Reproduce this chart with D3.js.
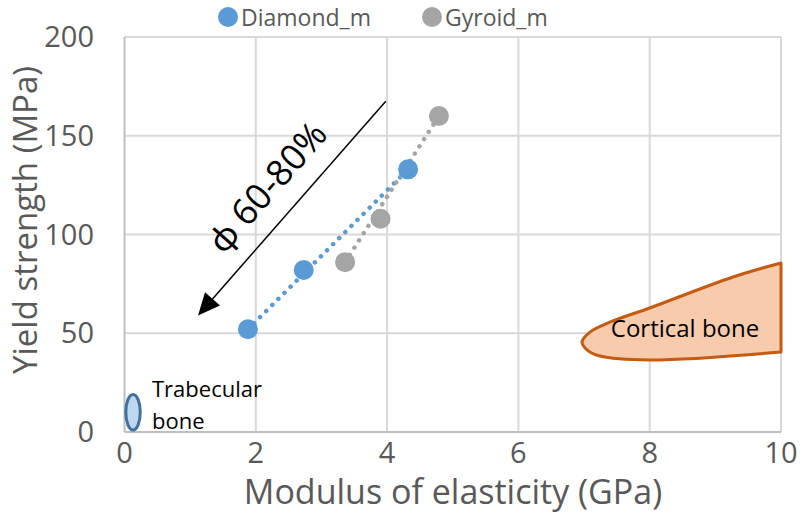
<!DOCTYPE html>
<html lang="en">
<head>
<meta charset="UTF-8">
<title>yield vs modulus</title>
<script src="https://d3js.org/d3.v7.min.js"></script>
<style>
  body { margin: 0; background: #fff; }
  text { font-family: "Open Sans", Lato, sans-serif; }
</style>
</head>
<body>
<script>
// data
const diamondE = [1.88, 2.73, 4.32];
const diamondS = [52, 82, 133];
const gyroidE = [3.36, 3.9, 4.79];
const gyroidS = [86, 108, 160];
const xTicks = [0, 2, 4, 6, 8, 10];
const yTicks = [0, 50, 100, 150, 200];
// cortical bone outline (E, strength), closed along E = 10
const corticalE = [10, 9.27, 8.0, 7.4, 7.09, 6.97, 7.05, 7.24, 8.0, 10];
const corticalS = [85.6, 78.5, 62.8, 55.7, 50.6, 45.6, 41.5, 38.5, 36.5, 40.5];
// trabecular bone ellipse centre and radii
const trabecular = {e: 0.13, s: 10, re: 0.11, rs: 9};
// porosity arrow start/end
const arrowE = [3.98, 1.12];
const arrowS = [167.5, 59];

const W = 800, H = 531;
const svg = d3.select("body").append("svg").attr("width", W).attr("height", H);

const x = d3.scaleLinear().domain([0, 10]).range([124.5, 781]);
const y = d3.scaleLinear().domain([0, 200]).range([432, 37]);

const grey = "#595959";

// gridlines
svg.append("g").selectAll("line").data(yTicks.slice(1)).join("line")
  .attr("x1", x(0)).attr("x2", x(10))
  .attr("y1", d => y(d)).attr("y2", d => y(d))
  .attr("stroke", "#d9d9d9").attr("stroke-width", 2);
svg.append("g").selectAll("line").data(xTicks.slice(1)).join("line")
  .attr("x1", d => x(d)).attr("x2", d => x(d))
  .attr("y1", y(0)).attr("y2", y(200))
  .attr("stroke", "#d9d9d9").attr("stroke-width", 2);

// axis lines
svg.append("line").attr("x1", x(0)).attr("x2", x(0)).attr("y1", y(0)).attr("y2", y(200))
  .attr("stroke", "#bfbfbf").attr("stroke-width", 2);
svg.append("line").attr("x1", x(0)).attr("x2", x(10)).attr("y1", y(0)).attr("y2", y(0))
  .attr("stroke", "#bfbfbf").attr("stroke-width", 2);

// tick labels
svg.append("g").selectAll("text").data(xTicks).join("text")
  .attr("x", d => x(d)).attr("y", 463)
  .attr("text-anchor", "middle").attr("font-size", 29).attr("fill", grey)
  .text(d => d);
svg.append("g").selectAll("text").data(yTicks).join("text")
  .attr("x", 94).attr("y", d => y(d) + 10)
  .attr("text-anchor", "end").attr("font-size", 29).attr("fill", grey)
  .text(d => d);

// axis titles
svg.append("text").attr("x", 453).attr("y", 504).attr("text-anchor", "middle")
  .attr("font-size", 34).attr("fill", grey).text("Modulus of elasticity (GPa)");
svg.append("text").attr("transform", "translate(37,220) rotate(-90)")
  .attr("text-anchor", "middle").attr("font-size", 33).attr("fill", grey)
  .text("Yield strength (MPa)");

// cortical bone region
const corticalPts = corticalE.map((e, i) => [x(e), y(corticalS[i])]);
const corticalLine = d3.line().curve(d3.curveCatmullRom.alpha(0.5));
svg.append("path")
  .attr("d", corticalLine(corticalPts) + "Z")
  .attr("fill", "#f8cbad").attr("stroke", "#c55a11").attr("stroke-width", 3)
  .attr("stroke-linejoin", "round");
svg.append("text").attr("x", 685).attr("y", 337).attr("text-anchor", "middle")
  .attr("font-size", 24).attr("fill", "#000").text("Cortical bone");

// trabecular bone region
svg.append("ellipse")
  .attr("cx", x(trabecular.e)).attr("cy", y(trabecular.s))
  .attr("rx", x(trabecular.re) - x(0)).attr("ry", y(0) - y(trabecular.rs))
  .attr("fill", "#bdd7ee").attr("stroke", "#41719c").attr("stroke-width", 3);
svg.append("text").attr("x", 152).attr("y", 397)
  .attr("font-size", 22).attr("fill", "#000").text("Trabecular");
svg.append("text").attr("x", 152).attr("y", 429)
  .attr("font-size", 22).attr("fill", "#000").text("bone");

// dotted trend lines
function trend(es, ss, color) {
  svg.append("line")
    .attr("x1", x(es[0])).attr("y1", y(ss[0]))
    .attr("x2", x(es[es.length - 1])).attr("y2", y(ss[ss.length - 1]))
    .attr("stroke", color).attr("stroke-width", 4.5)
    .attr("stroke-linecap", "round").attr("stroke-dasharray", "0.1 8.5");
}
trend(diamondE, diamondS, "#5b9bd5");
trend(gyroidE, gyroidS, "#a5a5a5");

// markers
svg.append("g").selectAll("circle").data(gyroidE).join("circle")
  .attr("cx", d => x(d)).attr("cy", (d, i) => y(gyroidS[i])).attr("r", 10)
  .attr("fill", "#a5a5a5");
svg.append("g").selectAll("circle").data(diamondE).join("circle")
  .attr("cx", d => x(d)).attr("cy", (d, i) => y(diamondS[i])).attr("r", 10)
  .attr("fill", "#5b9bd5");

// porosity arrow
const ax1 = x(arrowE[0]), ay1 = y(arrowS[0]), ax2 = x(arrowE[1]), ay2 = y(arrowS[1]);
const ang = Math.atan2(ay2 - ay1, ax2 - ax1);
const headL = 22, headW = 10;
const bx = ax2 - headL * Math.cos(ang), by = ay2 - headL * Math.sin(ang);
svg.append("line").attr("x1", ax1).attr("y1", ay1).attr("x2", bx).attr("y2", by)
  .attr("stroke", "#000").attr("stroke-width", 1.5);
svg.append("path")
  .attr("d", `M${ax2},${ay2}L${bx + headW * Math.sin(ang)},${by - headW * Math.cos(ang)}L${bx - headW * Math.sin(ang)},${by + headW * Math.cos(ang)}Z`)
  .attr("fill", "#000");
svg.append("text")
  .attr("transform", `translate(267,187) rotate(${ang * 180 / Math.PI - 180})`)
  .attr("text-anchor", "middle").attr("dy", "0.35em")
  .attr("font-size", 36).attr("fill", "#000").text("\u03d5 60-80%");

// legend
const legend = [["Diamond_m", "#5b9bd5", 228], ["Gyroid_m", "#a5a5a5", 432]];
const lg = svg.append("g").selectAll("g").data(legend).join("g")
  .attr("transform", d => `translate(${d[2]},17)`);
lg.append("circle").attr("r", 10).attr("fill", d => d[1]);
lg.append("text").attr("x", 13).attr("y", 9).attr("font-size", 23).attr("fill", grey)
  .text(d => d[0]);
</script>
</body>
</html>
